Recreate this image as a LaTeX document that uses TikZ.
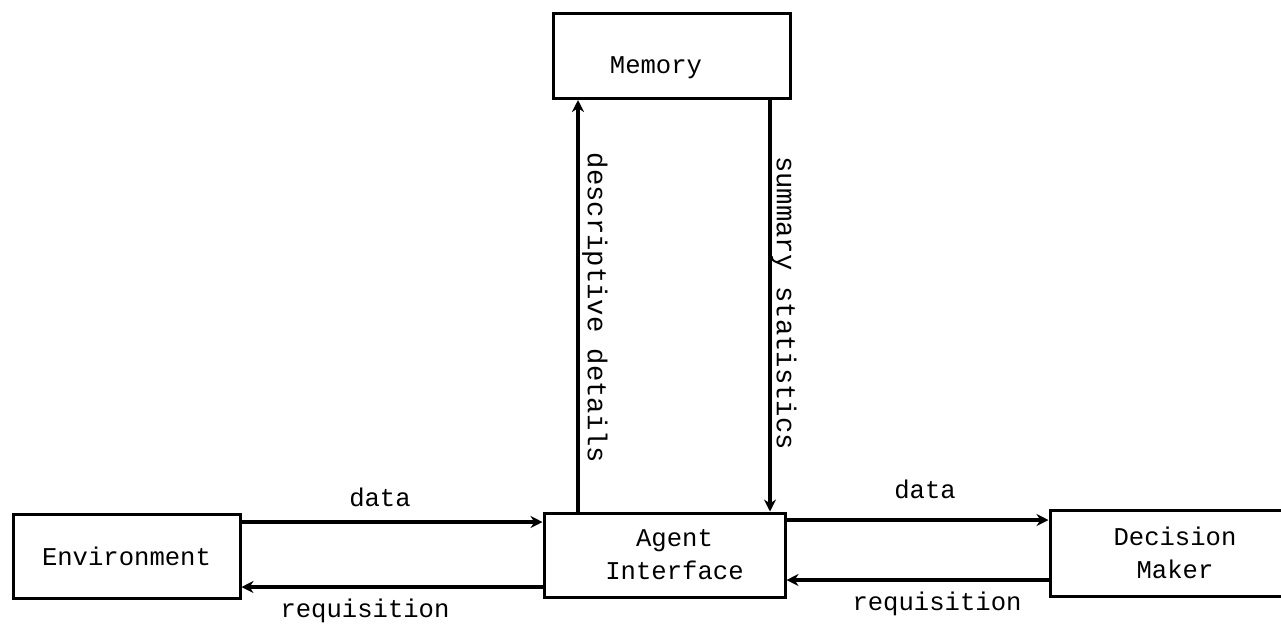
\documentclass[tikz,border=0pt]{standalone}
\usepackage{fontspec}
\setmonofont{Liberation Mono}
\usetikzlibrary{arrows.meta}
\begin{document}
\begin{tikzpicture}[x=0.5pt,y=-0.5pt,
  txt/.style={font=\ttfamily\fontsize{12.8}{16.5}\selectfont},
  box/.style={draw, line width=1.5pt, inner sep=0pt, align=center, txt},
  flow/.style={line width=1.8pt, -{Stealth[length=6pt,width=6pt]}},
  lbl/.style={inner sep=0pt, txt},
  vlbl/.style={inner sep=0pt, rotate=-90, font=\ttfamily\fontsize{13.6}{16.5}\selectfont}]
\useasboundingbox (0,0) rectangle (1281,623);
\clip (0,0) rectangle (1281,623);

% boxes
\node[box, minimum width=118.5pt, minimum height=42.5pt] (mem) at (671.5,56) {};
\node[lbl] (memtext) at (656,68) {Memory};
\node[box, minimum width=113.5pt, minimum height=42pt] (env) at (126.5,556) {Environment};
\node[box, minimum width=120.5pt, minimum height=42pt] (agent) at (664.5,555) {\hspace*{10pt}Agent\\\hspace*{10pt}Interface};
% the decision-maker box runs on past the right margin
\node[box, minimum width=125pt, minimum height=43pt] (dm) at (1175,553) {Decision\\Maker};

% horizontal flows
\draw[flow] (env.east |- 0,522) -- (agent.west |- 0,522);
\draw[flow] (agent.west |- 0,587) -- (env.east |- 0,587);
\draw[flow] (agent.east |- 0,520) -- (dm.west |- 0,520);
\draw[flow] (dm.west |- 0,580) -- (agent.east |- 0,580);

% vertical flows
\draw[flow] (agent.north -| 578,0) -- (mem.south -| 578,0);
\draw[flow] (mem.south -| 770,0) -- (agent.north -| 770,0);

% labels
\node[lbl] (d1) at (380,497) {data};
\node[lbl] (d2) at (925,489) {data};
\node[lbl] (r1) at (365,611) {requisition};
\node[lbl] (r2) at (937,604) {requisition};
\node[vlbl] (dd) at (595,308) {descriptive details};
\node[vlbl] (ss) at (784,303) {summary statistics};
\end{tikzpicture}
\end{document}
